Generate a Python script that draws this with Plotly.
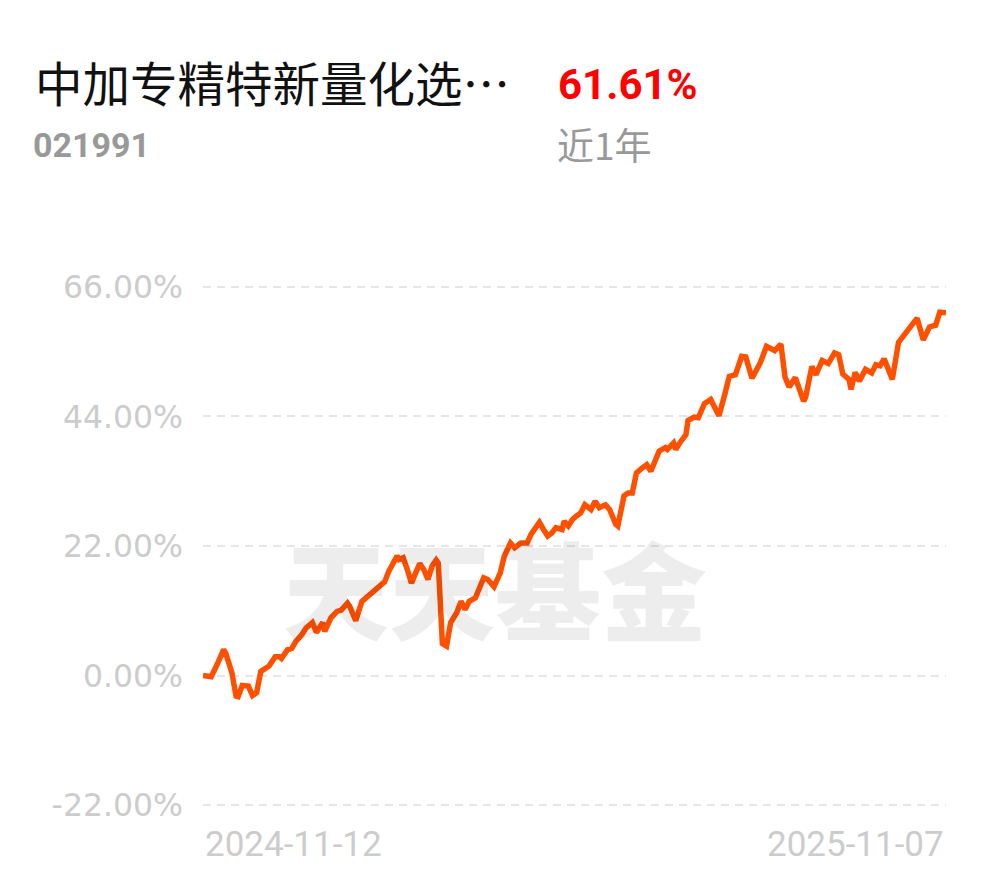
import plotly.graph_objects as go

# ---- data ----
dates = [
    "2024-11-12", "2024-11-16", "2024-11-19", "2024-11-22", "2024-11-23", "2024-11-26",
    "2024-11-28", "2024-11-29", "2024-12-01", "2024-12-04", "2024-12-06", "2024-12-08",
    "2024-12-10", "2024-12-12", "2024-12-14", "2024-12-17", "2024-12-19", "2024-12-20",
    "2024-12-23", "2024-12-25", "2024-12-27", "2024-12-30", "2025-01-01", "2025-01-04",
    "2025-01-06", "2025-01-09", "2025-01-10", "2025-01-13", "2025-01-16", "2025-01-18",
    "2025-01-21", "2025-01-22", "2025-01-25", "2025-01-28", "2025-01-30", "2025-02-01",
    "2025-02-03", "2025-02-06", "2025-02-08", "2025-02-10", "2025-02-12", "2025-02-14",
    "2025-02-15", "2025-02-17", "2025-02-19", "2025-02-21", "2025-02-23", "2025-02-25",
    "2025-02-27", "2025-03-01", "2025-03-03", "2025-03-05", "2025-03-06", "2025-03-08",
    "2025-03-10", "2025-03-12", "2025-03-15", "2025-03-17", "2025-03-19", "2025-03-21",
    "2025-03-24", "2025-03-26", "2025-03-28", "2025-03-30", "2025-04-02", "2025-04-05",
    "2025-04-07", "2025-04-10", "2025-04-12", "2025-04-15", "2025-04-18", "2025-04-20",
    "2025-04-24", "2025-04-26", "2025-04-28", "2025-04-30", "2025-05-02", "2025-05-05",
    "2025-05-06", "2025-05-08", "2025-05-10", "2025-05-12", "2025-05-14", "2025-05-16",
    "2025-05-19", "2025-05-21", "2025-05-23", "2025-05-26", "2025-05-28", "2025-05-31",
    "2025-06-01", "2025-06-04", "2025-06-06", "2025-06-08", "2025-06-10", "2025-06-13",
    "2025-06-15", "2025-06-17", "2025-06-19", "2025-06-21", "2025-06-24", "2025-06-25",
    "2025-06-28", "2025-06-29", "2025-07-01", "2025-07-04", "2025-07-05", "2025-07-08",
    "2025-07-10", "2025-07-13", "2025-07-16", "2025-07-20", "2025-07-23", "2025-07-25",
    "2025-07-28", "2025-07-31", "2025-08-02", "2025-08-05", "2025-08-09", "2025-08-12",
    "2025-08-16", "2025-08-19", "2025-08-21", "2025-08-23", "2025-08-26", "2025-08-30",
    "2025-08-31", "2025-09-03", "2025-09-05", "2025-09-08", "2025-09-11", "2025-09-14",
    "2025-09-16", "2025-09-18", "2025-09-21", "2025-09-22", "2025-09-24", "2025-09-26",
    "2025-09-29", "2025-10-02", "2025-10-04", "2025-10-06", "2025-10-08", "2025-10-12",
    "2025-10-15", "2025-10-18", "2025-10-21", "2025-10-24", "2025-10-27", "2025-10-30",
    "2025-11-02", "2025-11-04", "2025-11-07",
]

returns_pct = [
    0.0, -0.2, 2.0, 4.4, 3.8, 0.5,
    -3.5, -3.6, -1.7, -1.8, -3.4, -2.9,
    0.7, 1.2, 1.6, 3.2, 3.2, 2.9,
    4.4, 4.6, 5.8, 7.0, 8.1, 9.0,
    7.3, 9.0, 7.5, 9.8, 10.9, 11.1,
    12.3, 11.8, 9.3, 12.6, 13.2, 14.0,
    14.3, 15.2, 15.9, 17.7, 19.1, 20.3,
    19.7, 20.0, 18.0, 15.7, 17.4, 19.0,
    18.0, 16.3, 18.6, 19.6, 19.1, 5.4,
    5.0, 9.0, 10.7, 12.6, 11.2, 12.6,
    13.2, 15.2, 16.6, 16.3, 15.1, 17.4,
    20.3, 22.5, 21.7, 22.5, 22.5, 24.0,
    26.0, 24.8, 23.7, 24.2, 25.1, 24.8,
    26.2, 25.4, 26.5, 27.1, 27.6, 29.0,
    28.2, 29.6, 28.5, 29.0, 28.2, 25.7,
    25.4, 30.5, 31.0, 31.0, 34.4, 35.3,
    35.8, 34.7, 36.7, 38.1, 38.7, 38.4,
    39.5, 38.4, 39.5, 40.9, 43.3, 43.9,
    43.8, 46.2, 46.9, 44.1, 48.0, 50.8,
    51.1, 54.2, 54.1, 50.5, 53.1, 55.9,
    55.2, 56.3, 50.7, 49.0, 50.6, 46.6,
    47.3, 52.5, 51.1, 53.5, 53.0, 54.8,
    54.5, 51.2, 50.3, 48.6, 51.5, 50.0,
    52.0, 51.4, 52.8, 52.6, 53.8, 50.3,
    56.6, 58.0, 59.1, 60.7, 57.0, 59.2,
    59.5, 61.7, 61.61,
]

y_ticks = [-22, 0, 22, 44, 66]
y_tick_labels = ["-22.00%", "0.00%", "22.00%", "44.00%", "66.00%"]
x_tick_labels = ["2024-11-12", "2025-11-07"]

fund_name = "中加专精特新量化选…"
fund_code = "021991"
period_return = "61.61%"
period_label = "近1年"
watermark = "天天基金"

fig = go.Figure()
fig.add_trace(go.Scatter(
    x=dates, y=returns_pct, mode="lines",
    line=dict(color="#FF5000", width=5.5, shape="linear"),
    hoverinfo="skip", showlegend=False,
))

fig.update_layout(
    width=990, height=878,
    margin=dict(l=203, r=44, t=284, b=70),
    paper_bgcolor="white", plot_bgcolor="white",
    showlegend=False,
    xaxis=dict(
        type="date", range=[dates[0], dates[-1]],
        showgrid=False, zeroline=False, showline=False,
        showticklabels=False, ticks="",
    ),
    yaxis=dict(
        range=[-22.5, 66.5],
        tickvals=y_ticks, ticktext=y_tick_labels,
        showgrid=True, gridcolor="#E6E6E6", gridwidth=2, griddash="8px,6px",
        zeroline=False, showline=False, ticks="",
        tickfont=dict(family="DejaVu Sans", size=31.5, color="#CCCCCC"),
        ticklabelstandoff=19,
    ),
)

def paper_x(px):
    return (px - 203) / 743.0

def paper_y(py):
    return (808 - py) / 524.0

annos = [
    dict(text=watermark, x=paper_x(495), y=paper_y(586), xanchor="center", yanchor="middle",
         font=dict(family="Noto Sans CJK SC", size=106, color="rgba(0,0,0,0.07)", weight=900)),
    dict(text=fund_name, x=paper_x(33), y=paper_y(81), xanchor="left", yanchor="middle",
         font=dict(family="Noto Sans CJK SC", size=47.5, color="#111111")),
    dict(text="<b>" + period_return + "</b>", x=paper_x(556), y=paper_y(85), xanchor="left", yanchor="middle",
         font=dict(family="Roboto", size=42, color="#FF0000")),
    dict(text="<b>" + fund_code + "</b>", x=paper_x(31), y=paper_y(145), xanchor="left", yanchor="middle",
         font=dict(family="Roboto", size=34, color="#999999")),
    dict(text=period_label, x=paper_x(555), y=paper_y(144), xanchor="left", yanchor="middle",
         font=dict(family="Noto Sans CJK SC", size=37, color="#999999")),
    dict(text=x_tick_labels[0], x=0, y=paper_y(844), xanchor="left", yanchor="middle",
         font=dict(family="Roboto", size=35, color="#CCCCCC")),
    dict(text=x_tick_labels[1], x=1, y=paper_y(844), xanchor="right", yanchor="middle",
         font=dict(family="Roboto", size=35, color="#CCCCCC")),
]
for a in annos:
    a.update(xref="paper", yref="paper", showarrow=False)
    fig.add_annotation(**a)

fig.write_html("out.html", config={"displayModeBar": False, "staticPlot": True})

# remove the default 8px page margin so the figure sits at the window origin
with open("out.html", "r", encoding="utf-8") as f:
    html = f.read()
html = html.replace("<head>", "<head><style>html,body{margin:0;padding:0;}</style>", 1)
with open("out.html", "w", encoding="utf-8") as f:
    f.write(html)
